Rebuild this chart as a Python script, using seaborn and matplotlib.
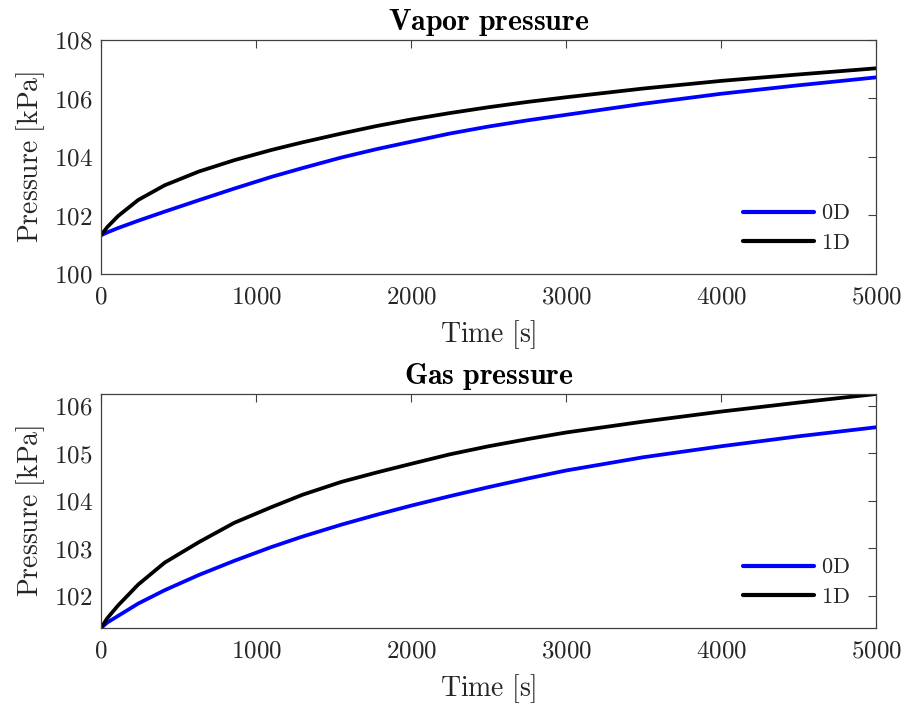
import numpy as np
import pandas as pd
import matplotlib
matplotlib.use("Agg")
import matplotlib.pyplot as plt
from matplotlib.ticker import FuncFormatter
import seaborn as sns

# ---- data ----
time_s = [0, 40, 110, 240, 410, 630, 860, 1100, 1300, 1550, 1780, 2000,
          2250, 2500, 2750, 3000, 3500, 4000, 4500, 5000]

vapor_0d = [101.325, 101.42, 101.57, 101.82, 102.13, 102.52, 102.92, 103.32, 103.62, 103.98,
            104.27, 104.52, 104.80, 105.04, 105.25, 105.44, 105.82, 106.16, 106.45, 106.72]
vapor_1d = [101.325, 101.60, 101.98, 102.53, 103.03, 103.50, 103.89, 104.24, 104.50, 104.80,
            105.06, 105.28, 105.50, 105.70, 105.88, 106.04, 106.34, 106.60, 106.82, 107.03]

gas_0d = [101.325, 101.44, 101.58, 101.84, 102.12, 102.44, 102.74, 103.03, 103.25, 103.50,
          103.71, 103.90, 104.10, 104.29, 104.47, 104.64, 104.92, 105.15, 105.36, 105.55]
gas_1d = [101.325, 101.53, 101.80, 102.24, 102.70, 103.13, 103.54, 103.87, 104.13, 104.40,
          104.60, 104.78, 104.98, 105.15, 105.30, 105.44, 105.67, 105.88, 106.07, 106.25]

models = ["0D", "1D"]
titles = ["Vapor pressure", "Gas pressure"]
xticks = [0, 1000, 2000, 3000, 4000, 5000]
vapor_yticks = [100, 102, 104, 106, 108]
gas_yticks = [102, 103, 104, 105, 106]


def make_df(s0, s1):
    return pd.DataFrame({
        "Time": time_s + time_s,
        "Pressure": s0 + s1,
        "Model": [models[0]] * len(time_s) + [models[1]] * len(time_s),
    })


sns.set_style("white")
plt.rcParams["font.family"] = ["DejaVu Serif"]
plt.rcParams["mathtext.fontset"] = "cm"

fig = plt.figure(figsize=(9.06, 7.07), dpi=100)
ax1 = fig.add_axes([0.1115, 0.6125, 0.8554, 0.331])
ax2 = fig.add_axes([0.1115, 0.1117, 0.8554, 0.331])

palette = {"0D": "#0000ff", "1D": "#000000"}
axis_col = "#404040"
text_col = "#262626"
cm_fmt = FuncFormatter(lambda v, p: r"$\mathrm{%d}$" % round(v))

panels = [
    (ax1, make_df(vapor_0d, vapor_1d), titles[0], vapor_yticks, (100, 108)),
    (ax2, make_df(gas_0d, gas_1d), titles[1], gas_yticks,
     (min(gas_0d + gas_1d), max(gas_0d + gas_1d))),
]

for ax, df, title, yt, ylim in panels:
    sns.lineplot(data=df, x="Time", y="Pressure", hue="Model", palette=palette,
                 linewidth=2.7, ax=ax, legend=True)
    ax.set_xlim(0, 5000)
    ax.set_ylim(*ylim)
    ax.set_xticks(xticks)
    ax.set_yticks(yt)
    ax.xaxis.set_major_formatter(cm_fmt)
    ax.yaxis.set_major_formatter(cm_fmt)
    ax.tick_params(direction="in", length=6, width=0.8, colors=axis_col,
                   labelcolor=text_col, labelsize=18, top=True, right=True,
                   pad=6)
    ax.tick_params(axis="x", pad=8)
    for sp in ax.spines.values():
        sp.set_visible(True)
        sp.set_color(axis_col)
        sp.set_linewidth(0.9)
    ax.set_xlabel(r"$\mathrm{Time\ [s]}$", fontsize=20, color=text_col, labelpad=7)
    ax.set_ylabel(r"$\mathrm{Pressure\ [kPa]}$", fontsize=20, color=text_col, labelpad=5)
    ax.set_title(r"$\mathbf{" + title.replace(" ", r"\ ") + "}$", fontsize=21.5,
                 color="black", pad=7)
    handles, labels = ax.get_legend_handles_labels()
    for h in handles:
        h.set_linewidth(3.0)
    ax.legend(handles, [r"$\mathrm{" + l + "}$" for l in labels], loc="lower right",
              bbox_to_anchor=(0.966, 0.085), frameon=False, fontsize=16,
              handlelength=3.2, handletextpad=0.3, labelspacing=0.35,
              borderpad=0, borderaxespad=0, labelcolor=text_col)

fig.savefig("out.png", dpi=100, facecolor="white")
